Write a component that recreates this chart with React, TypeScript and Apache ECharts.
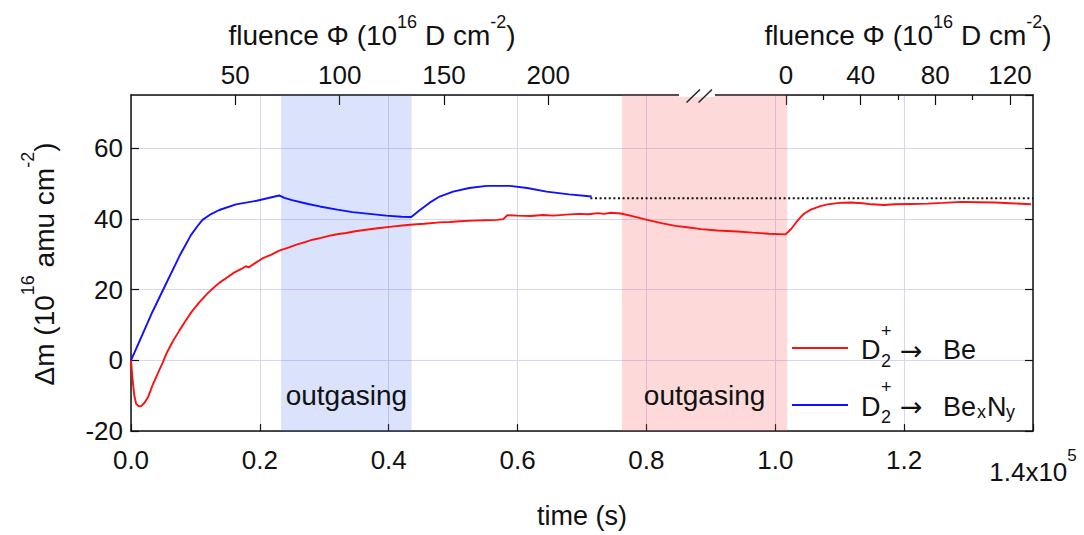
import React, { useEffect, useRef } from "react";
import * as echarts from "echarts";

const FONT = "'Liberation Sans', Arial, Helvetica, sans-serif";
const INK = "#111111";

// Mass change Δm (10^16 amu cm^-2) against exposure time (s), D2+ on Be
const beTime = [
  0, 250, 500, 800, 1200, 1600, 2100, 2700, 3300, 4000, 4900, 5600, 6500, 7500, 8400, 9400, 10600, 11800,
  13000, 13700, 14800, 16000, 17200, 17800, 18300, 19200, 20400, 21800, 23000, 24300, 25700, 27000, 28200,
  29500, 31000, 32200, 33400, 34800, 36500, 38600, 40500, 42500, 43800, 45500, 47900, 49500, 51000, 53000,
  55000, 56800, 57800, 58400, 60000, 62000, 64000, 65600, 67500, 69500, 71000, 72500, 73400, 74500, 76000,
  77500, 80100, 82500, 84500, 86300, 88500, 91000, 94100, 96500, 99000, 101600, 102500, 103200, 103900,
  104500, 105500, 107000, 108100, 110000, 111700, 113500, 115000, 116900, 118500, 121000, 123700, 126000,
  128900, 131500, 134100, 136500, 139700,
];
const beMass = [
  0, -5.5, -9.8, -12.3, -13.0, -12.9, -12.0, -10.2, -7.2, -4.3, -0.7, 2.3, 5.4, 8.4, 11.0, 13.7, 16.4, 18.8,
  20.8, 21.9, 23.3, 24.8, 25.9, 26.6, 26.3, 27.4, 28.8, 29.9, 31.0, 31.8, 32.7, 33.4, 34.1, 34.6, 35.3, 35.7,
  36.0, 36.5, 36.9, 37.4, 37.8, 38.2, 38.4, 38.6, 39.0, 39.1, 39.3, 39.5, 39.6, 39.7, 39.9, 41.0, 40.9, 40.8,
  41.1, 40.9, 41.2, 41.4, 41.3, 41.6, 41.4, 41.7, 41.5, 40.9, 39.7, 38.7, 38.0, 37.6, 37.1, 36.7, 36.4, 36.1,
  35.8, 35.6, 37.2, 38.9, 40.4, 41.5, 42.6, 43.6, 44.1, 44.5, 44.6, 44.4, 44.1, 43.9, 44.1, 44.2, 44.3, 44.5,
  44.8, 44.7, 44.6, 44.4, 44.1,
];

// D2+ on BexNy
const bexnyTime = [
  0, 1700, 3300, 5400, 7500, 9300, 10300, 11100, 12200, 13700, 16300, 19500, 23000, 23800, 25000, 27500,
  29300, 32000, 34400, 37000, 39600, 42000, 43500, 44800, 46300, 47900, 50000, 52500, 55200, 58800, 61500,
  64500, 68000, 71500,
];
const bexnyMass = [
  0, 7.0, 13.6, 21.5, 29.4, 35.4, 37.9, 39.7, 41.1, 42.5, 44.1, 45.1, 46.6, 45.9, 45.3, 44.2, 43.5, 42.6,
  41.9, 41.4, 40.9, 40.6, 40.5, 42.4, 44.5, 46.3, 47.7, 48.7, 49.3, 49.3, 48.7, 47.7, 46.9, 46.3,
];

// Saturation level (dotted reference line)
const saturationTime = [71300, 140000];
const saturationMass = [45.8, 45.8];

// Outgasing intervals (s)
const outgasBexny = [23300, 43550];
const outgasBe = [76200, 101850];

// Axis ticks
const timeMax = 140000;
const timeInterval = 20000;
const massMin = -20;
const massMax = 75;
const massInterval = 20;
const fluenceTicksFirst = [50, 100, 150, 200];
const fluenceTicksSecond = [0, 40, 80, 120];
const fluenceMinorSecond = [20, 60, 100];

// Fluence scales: fluence gained per second, and start time of the second run
const fluenceRateFirst = 200 / 64770;
const fluenceRateSecond = 120 / 34770;
const secondRunStart = 101660;

const pairs = (xs: number[], ys: number[]) => xs.map((x, i) => [x, ys[i]]);

function txt(text: string, x: number, y: number, size: number, family = FONT) {
  return {
    type: "text",
    x,
    y,
    z: 100,
    style: { text, fontFamily: family, fontSize: size, fill: INK, align: "left", verticalAlign: "middle" },
  };
}

function supTitle(text: string, x: number, y: number, mainLH: number, supLH: number, rotation = 0) {
  return {
    type: "text",
    x,
    y,
    rotation,
    z: 100,
    style: {
      text,
      fontFamily: FONT,
      fontSize: 28,
      fill: INK,
      align: "center",
      verticalAlign: "middle",
      rich: {
        m: { fontFamily: FONT, fontSize: 28, fill: INK, lineHeight: mainLH },
        s: { fontFamily: FONT, fontSize: 18, fill: INK, lineHeight: supLH, verticalAlign: "top" },
      },
    },
  };
}

export default function App() {
  const ref = useRef<HTMLDivElement>(null);

  useEffect(() => {
    if (!ref.current) return;
    const chart = echarts.init(ref.current, undefined, { renderer: "svg" });

    const axisLine = { show: true, onZero: false, lineStyle: { color: INK, width: 1.5 } };
    const tickStyle = { color: INK, width: 1.2 };
    const gridLine = { show: true, lineStyle: { color: "#d6d6f2", width: 1 } };
    const label = { fontFamily: FONT, fontSize: 26, color: INK };

    const legendRows = [350, 406.5];

    chart.setOption({
      animation: false,
      grid: { left: 131, top: 95, width: 902, height: 340 },
      xAxis: [
        {
          type: "value",
          position: "bottom",
          min: 0,
          max: timeMax,
          interval: timeInterval,
          axisLine,
          axisTick: { inside: true, length: 7, lineStyle: tickStyle },
          splitLine: gridLine,
          axisLabel: {
            ...label,
            margin: 16,
            lineHeight: 26,
            showMinLabel: true,
            showMaxLabel: true,
            formatter: (v: number) => (v === timeMax ? "{a|1.4x10}{s|5}" : (v / 1e5).toFixed(1)),
            rich: {
              a: { fontFamily: FONT, fontSize: 26, color: INK, lineHeight: 50 },
              s: { fontFamily: FONT, fontSize: 17, color: INK, lineHeight: 16, verticalAlign: "top" },
            },
          },
          name: "time (s)",
          nameLocation: "middle",
          nameGap: 68,
          nameTextStyle: { fontFamily: FONT, fontSize: 27, color: INK, lineHeight: 28 },
        },
        {
          type: "value",
          position: "top",
          min: 0,
          max: timeMax * fluenceRateFirst,
          axisLine,
          axisTick: { inside: true, length: 10, customValues: fluenceTicksFirst, lineStyle: tickStyle },
          axisLabel: { ...label, margin: 7, lineHeight: 26, customValues: fluenceTicksFirst },
          splitLine: { show: false },
        },
        {
          type: "value",
          position: "top",
          min: -secondRunStart * fluenceRateSecond,
          max: (timeMax - secondRunStart) * fluenceRateSecond,
          axisLine: { show: false, onZero: false },
          axisTick: { inside: true, length: 10, customValues: fluenceTicksSecond, lineStyle: tickStyle },
          axisLabel: { ...label, margin: 7, lineHeight: 26, customValues: fluenceTicksSecond },
          splitLine: { show: false },
        },
        {
          type: "value",
          position: "top",
          min: -secondRunStart * fluenceRateSecond,
          max: (timeMax - secondRunStart) * fluenceRateSecond,
          axisLine: { show: false, onZero: false },
          axisTick: { inside: true, length: 5, customValues: fluenceMinorSecond, lineStyle: tickStyle },
          axisLabel: { show: false },
          splitLine: { show: false },
        },
      ],
      yAxis: [
        {
          type: "value",
          position: "left",
          min: massMin,
          max: massMax,
          interval: massInterval,
          axisLine,
          axisTick: { inside: true, length: 8, lineStyle: tickStyle },
          splitLine: gridLine,
          axisLabel: {
            ...label,
            margin: 8,
            showMaxLabel: false,
            formatter: (v: number) => (v % massInterval === 0 ? String(v) : ""),
          },
        },
        {
          type: "value",
          position: "right",
          min: massMin,
          max: massMax,
          interval: massInterval,
          axisLine,
          axisTick: { inside: true, length: 8, lineStyle: tickStyle },
          splitLine: { show: false },
          axisLabel: { show: false },
        },
      ],
      series: [
        {
          name: "D2+ → BexNy",
          type: "line",
          data: pairs(bexnyTime, bexnyMass),
          showSymbol: false,
          lineStyle: { color: "#1010ff", width: 1.9 },
          z: 5,
          markArea: {
            silent: true,
            itemStyle: { opacity: 1 },
            label: {
              show: true,
              position: "insideBottom",
              distance: 21,
              formatter: "{b}",
              fontFamily: FONT,
              fontSize: 28,
              lineHeight: 30,
              color: INK,
            },
            data: [
              [
                { name: "outgasing", xAxis: outgasBexny[0], itemStyle: { color: "rgba(70,110,240,0.2)" } },
                { xAxis: outgasBexny[1] },
              ],
              [
                { name: "outgasing", xAxis: outgasBe[0], itemStyle: { color: "rgba(250,80,80,0.22)" } },
                { xAxis: outgasBe[1] },
              ],
            ],
          },
        },
        {
          name: "D2+ → Be",
          type: "line",
          data: pairs(beTime, beMass),
          showSymbol: false,
          lineStyle: { color: "#ff1010", width: 1.9 },
          z: 6,
        },
        {
          name: "saturation",
          type: "line",
          data: pairs(saturationTime, saturationMass),
          showSymbol: false,
          lineStyle: { color: "#111111", width: 2, type: [2, 2.6] },
          z: 4,
        },
      ],
      graphic: [
        // axis titles
        supTitle("{m|fluence Φ (10}{s|16}{m| D cm}{s|-2}{m|)}", 372, 35, 44, 14),
        supTitle("{m|fluence Φ (10}{s|16}{m| D cm}{s|-2}{m|)}", 908, 35, 44, 14),
        supTitle("{m|Δm (10}{s|16}{m| amu cm}{s|-2}{m|)}", 44, 264, 50, 8, Math.PI / 2),
        // axis break on the top border
        { type: "rect", z: 100, shape: { x: 679, y: 92, width: 36, height: 5 }, style: { fill: "#ffffff" } },
        {
          type: "line",
          z: 101,
          shape: { x1: 686.5, y1: 102.5, x2: 700, y2: 89.5 },
          style: { stroke: "#222", lineWidth: 1.5 },
        },
        {
          type: "line",
          z: 101,
          shape: { x1: 698.5, y1: 102.5, x2: 712, y2: 89.5 },
          style: { stroke: "#222", lineWidth: 1.5 },
        },
        // legend
        {
          type: "line",
          z: 100,
          shape: { x1: 792, y1: legendRows[0] - 2, x2: 848, y2: legendRows[0] - 2 },
          style: { stroke: "#ff1010", lineWidth: 2 },
        },
        {
          type: "line",
          z: 100,
          shape: { x1: 792, y1: legendRows[1] - 1.5, x2: 848, y2: legendRows[1] - 1.5 },
          style: { stroke: "#1010ff", lineWidth: 2 },
        },
        txt("D", 861, legendRows[0], 27),
        txt("+", 881, legendRows[0] - 19.5, 18),
        txt("2", 881, legendRows[0] + 10.5, 18),
        txt("→", 900, legendRows[0], 27, "'DejaVu Sans', sans-serif"),
        txt("Be", 943, legendRows[0], 27),
        txt("D", 861, legendRows[1], 27),
        txt("+", 881, legendRows[1] - 19.5, 18),
        txt("2", 881, legendRows[1] + 10.5, 18),
        txt("→", 900, legendRows[1], 27, "'DejaVu Sans', sans-serif"),
        txt("Be", 943, legendRows[1], 27),
        txt("x", 977, legendRows[1] + 5, 18),
        txt("N", 987, legendRows[1], 27),
        txt("y", 1006, legendRows[1] + 5, 18),
      ],
    });

    return () => chart.dispose();
  }, []);

  return (
    <div
      ref={ref}
      style={{ position: "fixed", left: 0, top: 0, width: 1084, height: 535, background: "#ffffff" }}
    />
  );
}
